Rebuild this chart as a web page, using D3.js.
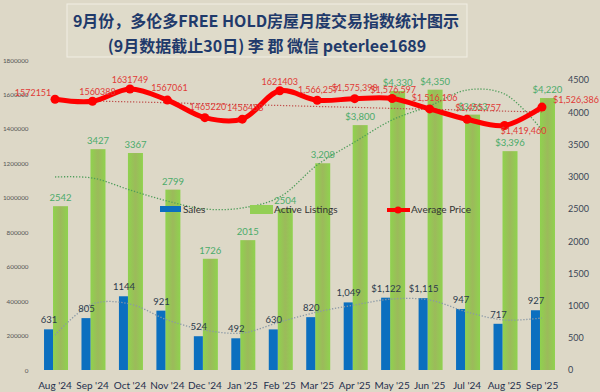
<!DOCTYPE html>
<html>
<head>
<meta charset="utf-8">
<script src="https://cdn.jsdelivr.net/npm/d3@7"></script>
<style>
  body { margin: 0; background: #ddd8c7; }
  svg { display: block; }
  text { font-family: Lato, "Open Sans", sans-serif; }
</style>
</head>
<body>
<svg id="chart" width="600" height="392"></svg>
<script>
// months (the "Jul '24" typo is in the original)
const months = ["Aug '24", "Sep '24", "Oct '24", "Nov '24", "Dec '24", "Jan '25", "Feb '25",
  "Mar '25", "Apr '25", "May '25", "Jun '25", "Jul '24", "Aug '25", "Sep '25"];

const sales = [631, 805, 1144, 921, 524, 492, 630, 820, 1049, 1122, 1115, 947, 717, 927];
const salesLabels = ["631", "805", "1144", "921", "524", "492", "630", "820", "1,049",
  "$1,122", "$1,115", "947", "717", "927"];

const listings = [2542, 3427, 3367, 2799, 1726, 2015, 2504, 3208, 3800, 4330, 4350, 3963, 3396, 4220];
const listingLabels = ["2542", "3427", "3367", "2799", "1726", "2015", "2504", "3,208", "$3,800",
  "$4,330", "$4,350", "$3,963", "$3,396", "$4,220"];

const avgPrice = [1572151, 1560388, 1631749, 1567061, 1465220, 1456458, 1621403, 1566257,
  1575398, 1576597, 1516106, 1455757, 1419460, 1526386];
const priceLabels = ["1572151", "1560388", "1631749", "1567061", "1465220", "1456458", "1621403",
  "1,566,257", "$1,575,398", "$1,576,597", "$1,516,106", "$1,455,757", "$1,419,460", "$1,526,386"];

// trendlines
const salesTrend = [543, 1024, 1024, 776, 620, 574, 745, 900, 1009, 1102, 1086, 900, 776, 807];
const listingsTrend = [2995, 2979, 2793, 2622, 2498, 2514, 2685, 3181, 3538, 3880, 4097, 4345, 4283, 3724];
const priceTrend = [1568000, 1562000, 1557000, 1552000, 1546000, 1541000, 1536000, 1530000,
  1525000, 1519000, 1514000, 1509000, 1503000, 1498000];

const leftTicks = [0, 200000, 400000, 600000, 800000, 1000000, 1200000, 1400000, 1600000, 1800000];
const rightTicks = [0, 500, 1000, 1500, 2000, 2500, 3000, 3500, 4000, 4500];

// label nudges for the price labels [dx, dy]
const priceLabelNudge = [[-22, -3], [5, -6], [0, -6], [2, -9], [3, -8], [3, -8], [0, -6], [1, -7],
  [0, -8], [1, -5], [5, -8], [11, -8], [19, 8], [34, -4]];

const svg = d3.select("#chart");

const x = d3.scaleBand().domain(months).range([36.3, 560.7]);
const yL = d3.scaleLinear().domain([0, 1800000]).range([370, 60]);
const yR = d3.scaleLinear().domain([0, 4500]).range([370, 80]);
const cx = (m) => x(m) + x.bandwidth() / 2;

// green bar gradient
const defs = svg.append("defs");
const grad = defs.append("linearGradient").attr("id", "gBar").attr("x1", 0).attr("x2", 1).attr("y1", 0).attr("y2", 0);
grad.append("stop").attr("offset", "0%").attr("stop-color", "#8fd24e");
grad.append("stop").attr("offset", "50%").attr("stop-color", "#9cba5b");
grad.append("stop").attr("offset", "100%").attr("stop-color", "#8fd24e");

// title box
svg.append("rect").attr("x", 67).attr("y", 4).attr("width", 400).attr("height", 53)
  .attr("fill", "#dfdbca").attr("stroke", "#f1eee4").attr("stroke-width", 1);
const title = svg.append("g").attr("font-weight", "bold").attr("fill", "#1f3a6b").attr("text-anchor", "middle");
title.append("text").attr("x", 266).attr("y", 27).attr("font-size", 16)
  .style("font-family", "'Noto Sans CJK SC', sans-serif")
  .text("9月份，多伦多FREE HOLD房屋月度交易指数统计图示");
title.append("text").attr("x", 267).attr("y", 52).attr("font-size", 16)
  .style("font-family", "'Noto Sans CJK SC', sans-serif")
  .text("(9月数据截止30日) 李 郡  微信 peterlee1689");

// axes
const axL = svg.append("g").attr("transform", "translate(30,0)")
  .call(d3.axisLeft(yL).tickValues(leftTicks).tickSize(0).tickPadding(1.5).tickFormat(d3.format("d")));
axL.select(".domain").remove();
axL.selectAll("text").attr("font-size", 6.3).attr("fill", "#555");

const axR = svg.append("g").attr("transform", "translate(566,0)")
  .call(d3.axisRight(yR).tickValues(rightTicks).tickSize(0).tickPadding(2).tickFormat(d3.format("d")));
axR.select(".domain").remove();
axR.selectAll("text").attr("font-size", 9).attr("fill", "#3b4656");

const axX = svg.append("g").attr("transform", "translate(0,374)")
  .call(d3.axisBottom(x).tickSize(0).tickPadding(8));
axX.select(".domain").remove();
axX.selectAll("text").attr("font-size", 10).attr("fill", "#1f2f4d");

// bars
svg.append("g").selectAll("rect").data(listings).join("rect")
  .attr("x", (d, i) => cx(months[i]) - 2)
  .attr("y", d => yR(d))
  .attr("width", 15)
  .attr("height", d => yR(0) - yR(d))
  .attr("fill", "url(#gBar)");

svg.append("g").selectAll("rect").data(sales).join("rect")
  .attr("x", (d, i) => cx(months[i]) - 11)
  .attr("y", d => yR(d))
  .attr("width", 9)
  .attr("height", d => yR(0) - yR(d))
  .attr("fill", "#0b6fbf");

// trendlines
const trend = (scale) => d3.line().curve(d3.curveCatmullRom.alpha(0.5))
  .x((d, i) => cx(months[i])).y(d => scale(d));

svg.append("path").attr("d", trend(yR)(salesTrend)).attr("fill", "none")
  .attr("stroke", "#8a99a6").attr("stroke-width", 1.3).attr("stroke-dasharray", "1.3,1.7");
svg.append("path").attr("d", trend(yR)(listingsTrend)).attr("fill", "none")
  .attr("stroke", "#4f9d5b").attr("stroke-width", 1.3).attr("stroke-dasharray", "1.3,1.7");
svg.append("path").attr("d", trend(yL)(priceTrend)).attr("fill", "none")
  .attr("stroke", "#c0504d").attr("stroke-width", 1.2).attr("stroke-dasharray", "1.3,1.7");

// data labels for bars
svg.append("g").selectAll("text").data(listingLabels).join("text")
  .attr("x", (d, i) => cx(months[i]) + 5.5)
  .attr("y", (d, i) => yR(listings[i]) - 5)
  .attr("text-anchor", "middle").attr("font-size", 9.5).attr("fill", "#4bab6a")
  .text(d => d);

svg.append("g").selectAll("text").data(salesLabels).join("text")
  .attr("x", (d, i) => cx(months[i]) - 6)
  .attr("y", (d, i) => yR(sales[i]) - 6)
  .attr("text-anchor", "middle").attr("font-size", 9.5).attr("fill", "#2c3a4c")
  .text(d => d);

// average price line
const priceLine = d3.line().curve(d3.curveCatmullRom.alpha(0.5))
  .x((d, i) => cx(months[i])).y(d => yL(d));
svg.append("path").attr("d", priceLine(avgPrice)).attr("fill", "none")
  .attr("stroke", "#ff0000").attr("stroke-width", 5).attr("stroke-linejoin", "round");
svg.append("g").selectAll("circle").data(avgPrice).join("circle")
  .attr("cx", (d, i) => cx(months[i])).attr("cy", d => yL(d)).attr("r", 4.5)
  .attr("fill", "#ff0000");

svg.append("g").selectAll("text").data(priceLabels).join("text")
  .attr("x", (d, i) => cx(months[i]) + priceLabelNudge[i][0])
  .attr("y", (d, i) => yL(avgPrice[i]) + priceLabelNudge[i][1])
  .attr("text-anchor", "middle").attr("font-size", 9).attr("fill", "#e03a36")
  .text(d => d);

// legend
const lg = svg.append("g").attr("font-size", 10).attr("fill", "#333");
lg.append("rect").attr("x", 160).attr("y", 206).attr("width", 21).attr("height", 6).attr("fill", "#0b6fbf");
lg.append("text").attr("x", 183).attr("y", 213).text("Sales");
lg.append("rect").attr("x", 250).attr("y", 205).attr("width", 23).attr("height", 9).attr("fill", "#93cf55");
lg.append("text").attr("x", 274).attr("y", 213).text("Active Listings");
lg.append("line").attr("x1", 387).attr("x2", 410).attr("y1", 210).attr("y2", 210)
  .attr("stroke", "#ff0000").attr("stroke-width", 4);
lg.append("circle").attr("cx", 398).attr("cy", 210).attr("r", 3.5).attr("fill", "#ff0000");
lg.append("text").attr("x", 411).attr("y", 213).text("Average Price");
</script>
</body>
</html>
